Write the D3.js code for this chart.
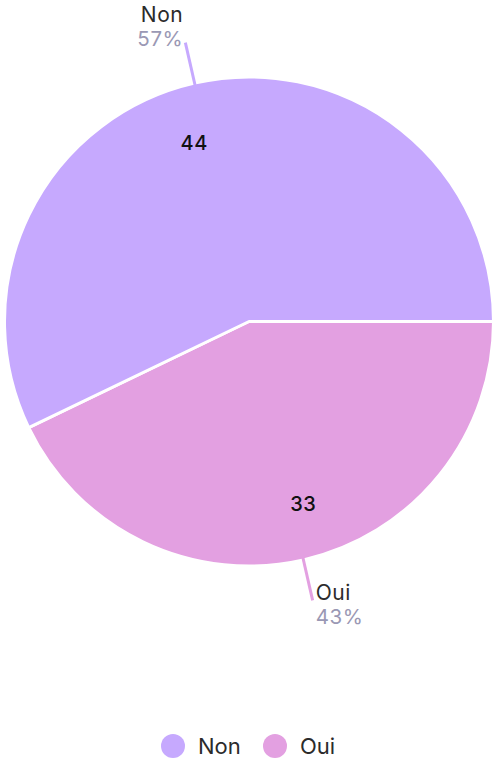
<!DOCTYPE html>
<html>
<head>
<meta charset="utf-8">
<script src="https://cdn.jsdelivr.net/npm/d3@7"></script>
<style>
  html, body { margin: 0; padding: 0; background: #fff; }
  svg { display: block; font-family: "Inter", "Noto Sans", sans-serif; }
</style>
</head>
<body>
<svg id="chart" width="496" height="759"></svg>
<script>
// Survey answers
const categories = ["Non", "Oui"];
const counts = [44, 33];
const colors = ["#c6a9fe", "#e3a0e1"];

const W = 496, H = 759;
const cx = 249, cy = 321.5, R = 244.5;

const svg = d3.select("#chart");
const total = d3.sum(counts);
const data = categories.map((c, i) => ({ name: c, value: counts[i], color: colors[i] }));

// Slices start at 3 o'clock; "Oui" runs clockwise first, "Non" closes the circle
const pie = d3.pie()
  .sort(null)
  .value(d => d.value)
  .startAngle(Math.PI / 2)
  .endAngle(Math.PI / 2 + 2 * Math.PI);
const arcs = pie([data[1], data[0]]);

const arc = d3.arc().innerRadius(0).outerRadius(R);
const inner = d3.arc().innerRadius(185).outerRadius(185);
const lineIn = d3.arc().innerRadius(238).outerRadius(238);
const lineOut = d3.arc().innerRadius(286).outerRadius(286);

const g = svg.append("g").attr("transform", `translate(${cx},${cy})`);

g.selectAll("path.slice")
  .data(arcs)
  .join("path")
  .attr("class", "slice")
  .attr("d", arc)
  .attr("fill", d => d.data.color)
  .attr("stroke", "#fff")
  .attr("stroke-width", 3)
  .attr("stroke-linejoin", "round");

// Values inside the slices
g.selectAll("text.val")
  .data(arcs)
  .join("text")
  .attr("class", "val")
  .attr("x", d => inner.centroid(d)[0])
  .attr("y", d => inner.centroid(d)[1] + 2)
  .attr("dy", "0.35em")
  .attr("text-anchor", d => inner.centroid(d)[0] < 0 ? "end" : "start")
  .attr("font-size", 20)
  .attr("font-weight", 500)
  .attr("letter-spacing", 0.5)
  .attr("fill", "#111")
  .text(d => d.data.value);

// Leader lines
g.selectAll("line.lead")
  .data(arcs)
  .join("line")
  .attr("class", "lead")
  .attr("x1", d => lineIn.centroid(d)[0])
  .attr("y1", d => lineIn.centroid(d)[1])
  .attr("x2", d => lineOut.centroid(d)[0])
  .attr("y2", d => lineOut.centroid(d)[1])
  .attr("stroke", d => d.data.color)
  .attr("stroke-width", 3);

// Outer labels: name and share
const outer = g.selectAll("g.outer")
  .data(arcs)
  .join("g")
  .attr("class", "outer")
  .attr("transform", d => {
    const [x, y] = lineOut.centroid(d);
    return y < 0 ? `translate(${x - 2},${y - 21})` : `translate(${x + 3},${y})`;
  })
  .attr("text-anchor", d => lineOut.centroid(d)[1] < 0 ? "end" : "start")
  .attr("letter-spacing", 0.6);

outer.append("text")
  .attr("font-size", 21)
  .attr("fill", "#2b2b2b")
  .text(d => d.data.name);

outer.append("text")
  .attr("y", 24)
  .attr("font-size", 20.5)
  .attr("fill", "#9a98b4")
  .text(d => Math.round(d.data.value / total * 100) + "%");

// Legend
const legend = svg.append("g").attr("transform", "translate(0,746)");
const items = [
  { name: categories[0], color: colors[0], x: 173 },
  { name: categories[1], color: colors[1], x: 275 }
];
const li = legend.selectAll("g").data(items).join("g")
  .attr("transform", d => `translate(${d.x},0)`);
li.append("circle").attr("r", 12).attr("fill", d => d.color);
li.append("text")
  .attr("x", 25)
  .attr("dy", "0.35em")
  .attr("font-size", 22)
  .attr("fill", "#2b2b2b")
  .text(d => d.name);
</script>
</body>
</html>
